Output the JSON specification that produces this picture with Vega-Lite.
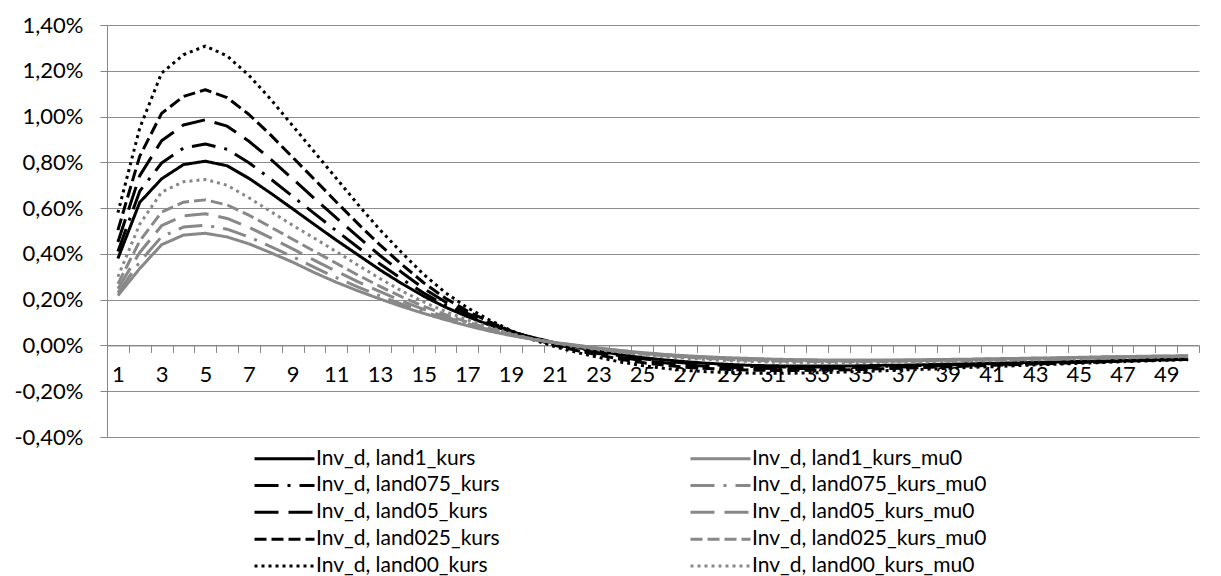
{
"$schema":"https://vega.github.io/schema/vega-lite/v6.json",
"width":1092,"height":412,
"autosize":{"type":"none"},
"padding":{"left":107,"top":25,"right":22,"bottom":139},
"background":"#ffffff",
"config":{"view":{"stroke":null},"font":"Lato"},
"data":{"values":[
{"t":1,"series":"Inv_d, land1_kurs","value":0.38},{"t":2,"series":"Inv_d, land1_kurs","value":0.625},{"t":3,"series":"Inv_d, land1_kurs","value":0.728},{"t":4,"series":"Inv_d, land1_kurs","value":0.79},{"t":5,"series":"Inv_d, land1_kurs","value":0.805},{"t":6,"series":"Inv_d, land1_kurs","value":0.785},{"t":7,"series":"Inv_d, land1_kurs","value":0.73},{"t":8,"series":"Inv_d, land1_kurs","value":0.665},{"t":9,"series":"Inv_d, land1_kurs","value":0.597},{"t":10,"series":"Inv_d, land1_kurs","value":0.528},{"t":11,"series":"Inv_d, land1_kurs","value":0.46},{"t":12,"series":"Inv_d, land1_kurs","value":0.395},{"t":13,"series":"Inv_d, land1_kurs","value":0.33},{"t":14,"series":"Inv_d, land1_kurs","value":0.27},{"t":15,"series":"Inv_d, land1_kurs","value":0.215},{"t":16,"series":"Inv_d, land1_kurs","value":0.167},{"t":17,"series":"Inv_d, land1_kurs","value":0.126},{"t":18,"series":"Inv_d, land1_kurs","value":0.09},{"t":19,"series":"Inv_d, land1_kurs","value":0.06},{"t":20,"series":"Inv_d, land1_kurs","value":0.035},{"t":21,"series":"Inv_d, land1_kurs","value":0.012},{"t":22,"series":"Inv_d, land1_kurs","value":-0.008},{"t":23,"series":"Inv_d, land1_kurs","value":-0.025},{"t":24,"series":"Inv_d, land1_kurs","value":-0.04},{"t":25,"series":"Inv_d, land1_kurs","value":-0.053},{"t":26,"series":"Inv_d, land1_kurs","value":-0.063},{"t":27,"series":"Inv_d, land1_kurs","value":-0.071},{"t":28,"series":"Inv_d, land1_kurs","value":-0.078},{"t":29,"series":"Inv_d, land1_kurs","value":-0.083},{"t":30,"series":"Inv_d, land1_kurs","value":-0.087},{"t":31,"series":"Inv_d, land1_kurs","value":-0.089},{"t":32,"series":"Inv_d, land1_kurs","value":-0.09},{"t":33,"series":"Inv_d, land1_kurs","value":-0.09},{"t":34,"series":"Inv_d, land1_kurs","value":-0.09},{"t":35,"series":"Inv_d, land1_kurs","value":-0.089},{"t":36,"series":"Inv_d, land1_kurs","value":-0.087},{"t":37,"series":"Inv_d, land1_kurs","value":-0.086},{"t":38,"series":"Inv_d, land1_kurs","value":-0.084},{"t":39,"series":"Inv_d, land1_kurs","value":-0.082},{"t":40,"series":"Inv_d, land1_kurs","value":-0.08},{"t":41,"series":"Inv_d, land1_kurs","value":-0.078},{"t":42,"series":"Inv_d, land1_kurs","value":-0.076},{"t":43,"series":"Inv_d, land1_kurs","value":-0.074},{"t":44,"series":"Inv_d, land1_kurs","value":-0.072},{"t":45,"series":"Inv_d, land1_kurs","value":-0.07},{"t":46,"series":"Inv_d, land1_kurs","value":-0.068},{"t":47,"series":"Inv_d, land1_kurs","value":-0.066},{"t":48,"series":"Inv_d, land1_kurs","value":-0.063},{"t":49,"series":"Inv_d, land1_kurs","value":-0.061},{"t":50,"series":"Inv_d, land1_kurs","value":-0.059},
{"t":1,"series":"Inv_d, land075_kurs","value":0.41},{"t":2,"series":"Inv_d, land075_kurs","value":0.674},{"t":3,"series":"Inv_d, land075_kurs","value":0.797},{"t":4,"series":"Inv_d, land075_kurs","value":0.862},{"t":5,"series":"Inv_d, land075_kurs","value":0.88},{"t":6,"series":"Inv_d, land075_kurs","value":0.857},{"t":7,"series":"Inv_d, land075_kurs","value":0.798},{"t":8,"series":"Inv_d, land075_kurs","value":0.727},{"t":9,"series":"Inv_d, land075_kurs","value":0.651},{"t":10,"series":"Inv_d, land075_kurs","value":0.576},{"t":11,"series":"Inv_d, land075_kurs","value":0.501},{"t":12,"series":"Inv_d, land075_kurs","value":0.428},{"t":13,"series":"Inv_d, land075_kurs","value":0.356},{"t":14,"series":"Inv_d, land075_kurs","value":0.29},{"t":15,"series":"Inv_d, land075_kurs","value":0.229},{"t":16,"series":"Inv_d, land075_kurs","value":0.176},{"t":17,"series":"Inv_d, land075_kurs","value":0.132},{"t":18,"series":"Inv_d, land075_kurs","value":0.093},{"t":19,"series":"Inv_d, land075_kurs","value":0.061},{"t":20,"series":"Inv_d, land075_kurs","value":0.033},{"t":21,"series":"Inv_d, land075_kurs","value":0.009},{"t":22,"series":"Inv_d, land075_kurs","value":-0.011},{"t":23,"series":"Inv_d, land075_kurs","value":-0.029},{"t":24,"series":"Inv_d, land075_kurs","value":-0.045},{"t":25,"series":"Inv_d, land075_kurs","value":-0.058},{"t":26,"series":"Inv_d, land075_kurs","value":-0.069},{"t":27,"series":"Inv_d, land075_kurs","value":-0.077},{"t":28,"series":"Inv_d, land075_kurs","value":-0.084},{"t":29,"series":"Inv_d, land075_kurs","value":-0.088},{"t":30,"series":"Inv_d, land075_kurs","value":-0.092},{"t":31,"series":"Inv_d, land075_kurs","value":-0.094},{"t":32,"series":"Inv_d, land075_kurs","value":-0.095},{"t":33,"series":"Inv_d, land075_kurs","value":-0.094},{"t":34,"series":"Inv_d, land075_kurs","value":-0.094},{"t":35,"series":"Inv_d, land075_kurs","value":-0.093},{"t":36,"series":"Inv_d, land075_kurs","value":-0.091},{"t":37,"series":"Inv_d, land075_kurs","value":-0.089},{"t":38,"series":"Inv_d, land075_kurs","value":-0.087},{"t":39,"series":"Inv_d, land075_kurs","value":-0.085},{"t":40,"series":"Inv_d, land075_kurs","value":-0.082},{"t":41,"series":"Inv_d, land075_kurs","value":-0.08},{"t":42,"series":"Inv_d, land075_kurs","value":-0.078},{"t":43,"series":"Inv_d, land075_kurs","value":-0.076},{"t":44,"series":"Inv_d, land075_kurs","value":-0.074},{"t":45,"series":"Inv_d, land075_kurs","value":-0.071},{"t":46,"series":"Inv_d, land075_kurs","value":-0.069},{"t":47,"series":"Inv_d, land075_kurs","value":-0.067},{"t":48,"series":"Inv_d, land075_kurs","value":-0.064},{"t":49,"series":"Inv_d, land075_kurs","value":-0.062},{"t":50,"series":"Inv_d, land075_kurs","value":-0.059},
{"t":1,"series":"Inv_d, land05_kurs","value":0.452},{"t":2,"series":"Inv_d, land05_kurs","value":0.742},{"t":3,"series":"Inv_d, land05_kurs","value":0.894},{"t":4,"series":"Inv_d, land05_kurs","value":0.963},{"t":5,"series":"Inv_d, land05_kurs","value":0.986},{"t":6,"series":"Inv_d, land05_kurs","value":0.958},{"t":7,"series":"Inv_d, land05_kurs","value":0.892},{"t":8,"series":"Inv_d, land05_kurs","value":0.813},{"t":9,"series":"Inv_d, land05_kurs","value":0.728},{"t":10,"series":"Inv_d, land05_kurs","value":0.642},{"t":11,"series":"Inv_d, land05_kurs","value":0.557},{"t":12,"series":"Inv_d, land05_kurs","value":0.474},{"t":13,"series":"Inv_d, land05_kurs","value":0.393},{"t":14,"series":"Inv_d, land05_kurs","value":0.319},{"t":15,"series":"Inv_d, land05_kurs","value":0.249},{"t":16,"series":"Inv_d, land05_kurs","value":0.19},{"t":17,"series":"Inv_d, land05_kurs","value":0.14},{"t":18,"series":"Inv_d, land05_kurs","value":0.098},{"t":19,"series":"Inv_d, land05_kurs","value":0.062},{"t":20,"series":"Inv_d, land05_kurs","value":0.031},{"t":21,"series":"Inv_d, land05_kurs","value":0.006},{"t":22,"series":"Inv_d, land05_kurs","value":-0.016},{"t":23,"series":"Inv_d, land05_kurs","value":-0.035},{"t":24,"series":"Inv_d, land05_kurs","value":-0.052},{"t":25,"series":"Inv_d, land05_kurs","value":-0.066},{"t":26,"series":"Inv_d, land05_kurs","value":-0.076},{"t":27,"series":"Inv_d, land05_kurs","value":-0.085},{"t":28,"series":"Inv_d, land05_kurs","value":-0.091},{"t":29,"series":"Inv_d, land05_kurs","value":-0.096},{"t":30,"series":"Inv_d, land05_kurs","value":-0.099},{"t":31,"series":"Inv_d, land05_kurs","value":-0.101},{"t":32,"series":"Inv_d, land05_kurs","value":-0.101},{"t":33,"series":"Inv_d, land05_kurs","value":-0.1},{"t":34,"series":"Inv_d, land05_kurs","value":-0.1},{"t":35,"series":"Inv_d, land05_kurs","value":-0.098},{"t":36,"series":"Inv_d, land05_kurs","value":-0.096},{"t":37,"series":"Inv_d, land05_kurs","value":-0.094},{"t":38,"series":"Inv_d, land05_kurs","value":-0.091},{"t":39,"series":"Inv_d, land05_kurs","value":-0.088},{"t":40,"series":"Inv_d, land05_kurs","value":-0.086},{"t":41,"series":"Inv_d, land05_kurs","value":-0.083},{"t":42,"series":"Inv_d, land05_kurs","value":-0.081},{"t":43,"series":"Inv_d, land05_kurs","value":-0.078},{"t":44,"series":"Inv_d, land05_kurs","value":-0.076},{"t":45,"series":"Inv_d, land05_kurs","value":-0.073},{"t":46,"series":"Inv_d, land05_kurs","value":-0.071},{"t":47,"series":"Inv_d, land05_kurs","value":-0.068},{"t":48,"series":"Inv_d, land05_kurs","value":-0.065},{"t":49,"series":"Inv_d, land05_kurs","value":-0.062},{"t":50,"series":"Inv_d, land05_kurs","value":-0.06},
{"t":1,"series":"Inv_d, land025_kurs","value":0.504},{"t":2,"series":"Inv_d, land025_kurs","value":0.827},{"t":3,"series":"Inv_d, land025_kurs","value":1.014},{"t":4,"series":"Inv_d, land025_kurs","value":1.088},{"t":5,"series":"Inv_d, land025_kurs","value":1.117},{"t":6,"series":"Inv_d, land025_kurs","value":1.083},{"t":7,"series":"Inv_d, land025_kurs","value":1.009},{"t":8,"series":"Inv_d, land025_kurs","value":0.919},{"t":9,"series":"Inv_d, land025_kurs","value":0.822},{"t":10,"series":"Inv_d, land025_kurs","value":0.725},{"t":11,"series":"Inv_d, land025_kurs","value":0.627},{"t":12,"series":"Inv_d, land025_kurs","value":0.531},{"t":13,"series":"Inv_d, land025_kurs","value":0.439},{"t":14,"series":"Inv_d, land025_kurs","value":0.354},{"t":15,"series":"Inv_d, land025_kurs","value":0.274},{"t":16,"series":"Inv_d, land025_kurs","value":0.206},{"t":17,"series":"Inv_d, land025_kurs","value":0.15},{"t":18,"series":"Inv_d, land025_kurs","value":0.104},{"t":19,"series":"Inv_d, land025_kurs","value":0.063},{"t":20,"series":"Inv_d, land025_kurs","value":0.029},{"t":21,"series":"Inv_d, land025_kurs","value":0.001},{"t":22,"series":"Inv_d, land025_kurs","value":-0.022},{"t":23,"series":"Inv_d, land025_kurs","value":-0.042},{"t":24,"series":"Inv_d, land025_kurs","value":-0.06},{"t":25,"series":"Inv_d, land025_kurs","value":-0.075},{"t":26,"series":"Inv_d, land025_kurs","value":-0.086},{"t":27,"series":"Inv_d, land025_kurs","value":-0.095},{"t":28,"series":"Inv_d, land025_kurs","value":-0.101},{"t":29,"series":"Inv_d, land025_kurs","value":-0.105},{"t":30,"series":"Inv_d, land025_kurs","value":-0.108},{"t":31,"series":"Inv_d, land025_kurs","value":-0.109},{"t":32,"series":"Inv_d, land025_kurs","value":-0.109},{"t":33,"series":"Inv_d, land025_kurs","value":-0.108},{"t":34,"series":"Inv_d, land025_kurs","value":-0.107},{"t":35,"series":"Inv_d, land025_kurs","value":-0.105},{"t":36,"series":"Inv_d, land025_kurs","value":-0.102},{"t":37,"series":"Inv_d, land025_kurs","value":-0.099},{"t":38,"series":"Inv_d, land025_kurs","value":-0.096},{"t":39,"series":"Inv_d, land025_kurs","value":-0.093},{"t":40,"series":"Inv_d, land025_kurs","value":-0.09},{"t":41,"series":"Inv_d, land025_kurs","value":-0.087},{"t":42,"series":"Inv_d, land025_kurs","value":-0.084},{"t":43,"series":"Inv_d, land025_kurs","value":-0.081},{"t":44,"series":"Inv_d, land025_kurs","value":-0.078},{"t":45,"series":"Inv_d, land025_kurs","value":-0.075},{"t":46,"series":"Inv_d, land025_kurs","value":-0.072},{"t":47,"series":"Inv_d, land025_kurs","value":-0.069},{"t":48,"series":"Inv_d, land025_kurs","value":-0.066},{"t":49,"series":"Inv_d, land025_kurs","value":-0.063},{"t":50,"series":"Inv_d, land025_kurs","value":-0.061},
{"t":1,"series":"Inv_d, land00_kurs","value":0.58},{"t":2,"series":"Inv_d, land00_kurs","value":0.95},{"t":3,"series":"Inv_d, land00_kurs","value":1.19},{"t":4,"series":"Inv_d, land00_kurs","value":1.27},{"t":5,"series":"Inv_d, land00_kurs","value":1.308},{"t":6,"series":"Inv_d, land00_kurs","value":1.265},{"t":7,"series":"Inv_d, land00_kurs","value":1.18},{"t":8,"series":"Inv_d, land00_kurs","value":1.075},{"t":9,"series":"Inv_d, land00_kurs","value":0.96},{"t":10,"series":"Inv_d, land00_kurs","value":0.845},{"t":11,"series":"Inv_d, land00_kurs","value":0.73},{"t":12,"series":"Inv_d, land00_kurs","value":0.615},{"t":13,"series":"Inv_d, land00_kurs","value":0.505},{"t":14,"series":"Inv_d, land00_kurs","value":0.405},{"t":15,"series":"Inv_d, land00_kurs","value":0.31},{"t":16,"series":"Inv_d, land00_kurs","value":0.23},{"t":17,"series":"Inv_d, land00_kurs","value":0.165},{"t":18,"series":"Inv_d, land00_kurs","value":0.112},{"t":19,"series":"Inv_d, land00_kurs","value":0.065},{"t":20,"series":"Inv_d, land00_kurs","value":0.025},{"t":21,"series":"Inv_d, land00_kurs","value":-0.005},{"t":22,"series":"Inv_d, land00_kurs","value":-0.03},{"t":23,"series":"Inv_d, land00_kurs","value":-0.052},{"t":24,"series":"Inv_d, land00_kurs","value":-0.072},{"t":25,"series":"Inv_d, land00_kurs","value":-0.088},{"t":26,"series":"Inv_d, land00_kurs","value":-0.1},{"t":27,"series":"Inv_d, land00_kurs","value":-0.109},{"t":28,"series":"Inv_d, land00_kurs","value":-0.115},{"t":29,"series":"Inv_d, land00_kurs","value":-0.119},{"t":30,"series":"Inv_d, land00_kurs","value":-0.121},{"t":31,"series":"Inv_d, land00_kurs","value":-0.122},{"t":32,"series":"Inv_d, land00_kurs","value":-0.121},{"t":33,"series":"Inv_d, land00_kurs","value":-0.119},{"t":34,"series":"Inv_d, land00_kurs","value":-0.117},{"t":35,"series":"Inv_d, land00_kurs","value":-0.114},{"t":36,"series":"Inv_d, land00_kurs","value":-0.111},{"t":37,"series":"Inv_d, land00_kurs","value":-0.107},{"t":38,"series":"Inv_d, land00_kurs","value":-0.104},{"t":39,"series":"Inv_d, land00_kurs","value":-0.1},{"t":40,"series":"Inv_d, land00_kurs","value":-0.096},{"t":41,"series":"Inv_d, land00_kurs","value":-0.093},{"t":42,"series":"Inv_d, land00_kurs","value":-0.089},{"t":43,"series":"Inv_d, land00_kurs","value":-0.085},{"t":44,"series":"Inv_d, land00_kurs","value":-0.082},{"t":45,"series":"Inv_d, land00_kurs","value":-0.078},{"t":46,"series":"Inv_d, land00_kurs","value":-0.075},{"t":47,"series":"Inv_d, land00_kurs","value":-0.071},{"t":48,"series":"Inv_d, land00_kurs","value":-0.068},{"t":49,"series":"Inv_d, land00_kurs","value":-0.065},{"t":50,"series":"Inv_d, land00_kurs","value":-0.062},
{"t":1,"series":"Inv_d, land1_kurs_mu0","value":0.218},{"t":2,"series":"Inv_d, land1_kurs_mu0","value":0.336},{"t":3,"series":"Inv_d, land1_kurs_mu0","value":0.44},{"t":4,"series":"Inv_d, land1_kurs_mu0","value":0.482},{"t":5,"series":"Inv_d, land1_kurs_mu0","value":0.49},{"t":6,"series":"Inv_d, land1_kurs_mu0","value":0.474},{"t":7,"series":"Inv_d, land1_kurs_mu0","value":0.444},{"t":8,"series":"Inv_d, land1_kurs_mu0","value":0.405},{"t":9,"series":"Inv_d, land1_kurs_mu0","value":0.364},{"t":10,"series":"Inv_d, land1_kurs_mu0","value":0.318},{"t":11,"series":"Inv_d, land1_kurs_mu0","value":0.276},{"t":12,"series":"Inv_d, land1_kurs_mu0","value":0.238},{"t":13,"series":"Inv_d, land1_kurs_mu0","value":0.203},{"t":14,"series":"Inv_d, land1_kurs_mu0","value":0.17},{"t":15,"series":"Inv_d, land1_kurs_mu0","value":0.14},{"t":16,"series":"Inv_d, land1_kurs_mu0","value":0.112},{"t":17,"series":"Inv_d, land1_kurs_mu0","value":0.086},{"t":18,"series":"Inv_d, land1_kurs_mu0","value":0.063},{"t":19,"series":"Inv_d, land1_kurs_mu0","value":0.043},{"t":20,"series":"Inv_d, land1_kurs_mu0","value":0.027},{"t":21,"series":"Inv_d, land1_kurs_mu0","value":0.013},{"t":22,"series":"Inv_d, land1_kurs_mu0","value":0.001},{"t":23,"series":"Inv_d, land1_kurs_mu0","value":-0.011},{"t":24,"series":"Inv_d, land1_kurs_mu0","value":-0.022},{"t":25,"series":"Inv_d, land1_kurs_mu0","value":-0.031},{"t":26,"series":"Inv_d, land1_kurs_mu0","value":-0.039},{"t":27,"series":"Inv_d, land1_kurs_mu0","value":-0.045},{"t":28,"series":"Inv_d, land1_kurs_mu0","value":-0.05},{"t":29,"series":"Inv_d, land1_kurs_mu0","value":-0.054},{"t":30,"series":"Inv_d, land1_kurs_mu0","value":-0.057},{"t":31,"series":"Inv_d, land1_kurs_mu0","value":-0.06},{"t":32,"series":"Inv_d, land1_kurs_mu0","value":-0.062},{"t":33,"series":"Inv_d, land1_kurs_mu0","value":-0.063},{"t":34,"series":"Inv_d, land1_kurs_mu0","value":-0.064},{"t":35,"series":"Inv_d, land1_kurs_mu0","value":-0.064},{"t":36,"series":"Inv_d, land1_kurs_mu0","value":-0.064},{"t":37,"series":"Inv_d, land1_kurs_mu0","value":-0.063},{"t":38,"series":"Inv_d, land1_kurs_mu0","value":-0.062},{"t":39,"series":"Inv_d, land1_kurs_mu0","value":-0.061},{"t":40,"series":"Inv_d, land1_kurs_mu0","value":-0.06},{"t":41,"series":"Inv_d, land1_kurs_mu0","value":-0.058},{"t":42,"series":"Inv_d, land1_kurs_mu0","value":-0.057},{"t":43,"series":"Inv_d, land1_kurs_mu0","value":-0.055},{"t":44,"series":"Inv_d, land1_kurs_mu0","value":-0.054},{"t":45,"series":"Inv_d, land1_kurs_mu0","value":-0.052},{"t":46,"series":"Inv_d, land1_kurs_mu0","value":-0.05},{"t":47,"series":"Inv_d, land1_kurs_mu0","value":-0.049},{"t":48,"series":"Inv_d, land1_kurs_mu0","value":-0.047},{"t":49,"series":"Inv_d, land1_kurs_mu0","value":-0.046},{"t":50,"series":"Inv_d, land1_kurs_mu0","value":-0.045},
{"t":1,"series":"Inv_d, land075_kurs_mu0","value":0.23},{"t":2,"series":"Inv_d, land075_kurs_mu0","value":0.365},{"t":3,"series":"Inv_d, land075_kurs_mu0","value":0.475},{"t":4,"series":"Inv_d, land075_kurs_mu0","value":0.517},{"t":5,"series":"Inv_d, land075_kurs_mu0","value":0.525},{"t":6,"series":"Inv_d, land075_kurs_mu0","value":0.508},{"t":7,"series":"Inv_d, land075_kurs_mu0","value":0.474},{"t":8,"series":"Inv_d, land075_kurs_mu0","value":0.432},{"t":9,"series":"Inv_d, land075_kurs_mu0","value":0.388},{"t":10,"series":"Inv_d, land075_kurs_mu0","value":0.341},{"t":11,"series":"Inv_d, land075_kurs_mu0","value":0.296},{"t":12,"series":"Inv_d, land075_kurs_mu0","value":0.255},{"t":13,"series":"Inv_d, land075_kurs_mu0","value":0.216},{"t":14,"series":"Inv_d, land075_kurs_mu0","value":0.18},{"t":15,"series":"Inv_d, land075_kurs_mu0","value":0.148},{"t":16,"series":"Inv_d, land075_kurs_mu0","value":0.117},{"t":17,"series":"Inv_d, land075_kurs_mu0","value":0.09},{"t":18,"series":"Inv_d, land075_kurs_mu0","value":0.066},{"t":19,"series":"Inv_d, land075_kurs_mu0","value":0.044},{"t":20,"series":"Inv_d, land075_kurs_mu0","value":0.027},{"t":21,"series":"Inv_d, land075_kurs_mu0","value":0.013},{"t":22,"series":"Inv_d, land075_kurs_mu0","value":0.0},{"t":23,"series":"Inv_d, land075_kurs_mu0","value":-0.012},{"t":24,"series":"Inv_d, land075_kurs_mu0","value":-0.023},{"t":25,"series":"Inv_d, land075_kurs_mu0","value":-0.032},{"t":26,"series":"Inv_d, land075_kurs_mu0","value":-0.041},{"t":27,"series":"Inv_d, land075_kurs_mu0","value":-0.047},{"t":28,"series":"Inv_d, land075_kurs_mu0","value":-0.052},{"t":29,"series":"Inv_d, land075_kurs_mu0","value":-0.056},{"t":30,"series":"Inv_d, land075_kurs_mu0","value":-0.059},{"t":31,"series":"Inv_d, land075_kurs_mu0","value":-0.062},{"t":32,"series":"Inv_d, land075_kurs_mu0","value":-0.064},{"t":33,"series":"Inv_d, land075_kurs_mu0","value":-0.065},{"t":34,"series":"Inv_d, land075_kurs_mu0","value":-0.066},{"t":35,"series":"Inv_d, land075_kurs_mu0","value":-0.066},{"t":36,"series":"Inv_d, land075_kurs_mu0","value":-0.066},{"t":37,"series":"Inv_d, land075_kurs_mu0","value":-0.065},{"t":38,"series":"Inv_d, land075_kurs_mu0","value":-0.064},{"t":39,"series":"Inv_d, land075_kurs_mu0","value":-0.062},{"t":40,"series":"Inv_d, land075_kurs_mu0","value":-0.061},{"t":41,"series":"Inv_d, land075_kurs_mu0","value":-0.059},{"t":42,"series":"Inv_d, land075_kurs_mu0","value":-0.058},{"t":43,"series":"Inv_d, land075_kurs_mu0","value":-0.056},{"t":44,"series":"Inv_d, land075_kurs_mu0","value":-0.055},{"t":45,"series":"Inv_d, land075_kurs_mu0","value":-0.053},{"t":46,"series":"Inv_d, land075_kurs_mu0","value":-0.051},{"t":47,"series":"Inv_d, land075_kurs_mu0","value":-0.05},{"t":48,"series":"Inv_d, land075_kurs_mu0","value":-0.048},{"t":49,"series":"Inv_d, land075_kurs_mu0","value":-0.047},{"t":50,"series":"Inv_d, land075_kurs_mu0","value":-0.046},
{"t":1,"series":"Inv_d, land05_kurs_mu0","value":0.248},{"t":2,"series":"Inv_d, land05_kurs_mu0","value":0.406},{"t":3,"series":"Inv_d, land05_kurs_mu0","value":0.523},{"t":4,"series":"Inv_d, land05_kurs_mu0","value":0.566},{"t":5,"series":"Inv_d, land05_kurs_mu0","value":0.575},{"t":6,"series":"Inv_d, land05_kurs_mu0","value":0.555},{"t":7,"series":"Inv_d, land05_kurs_mu0","value":0.516},{"t":8,"series":"Inv_d, land05_kurs_mu0","value":0.47},{"t":9,"series":"Inv_d, land05_kurs_mu0","value":0.422},{"t":10,"series":"Inv_d, land05_kurs_mu0","value":0.372},{"t":11,"series":"Inv_d, land05_kurs_mu0","value":0.324},{"t":12,"series":"Inv_d, land05_kurs_mu0","value":0.278},{"t":13,"series":"Inv_d, land05_kurs_mu0","value":0.235},{"t":14,"series":"Inv_d, land05_kurs_mu0","value":0.194},{"t":15,"series":"Inv_d, land05_kurs_mu0","value":0.158},{"t":16,"series":"Inv_d, land05_kurs_mu0","value":0.125},{"t":17,"series":"Inv_d, land05_kurs_mu0","value":0.095},{"t":18,"series":"Inv_d, land05_kurs_mu0","value":0.069},{"t":19,"series":"Inv_d, land05_kurs_mu0","value":0.046},{"t":20,"series":"Inv_d, land05_kurs_mu0","value":0.027},{"t":21,"series":"Inv_d, land05_kurs_mu0","value":0.012},{"t":22,"series":"Inv_d, land05_kurs_mu0","value":-0.002},{"t":23,"series":"Inv_d, land05_kurs_mu0","value":-0.014},{"t":24,"series":"Inv_d, land05_kurs_mu0","value":-0.025},{"t":25,"series":"Inv_d, land05_kurs_mu0","value":-0.034},{"t":26,"series":"Inv_d, land05_kurs_mu0","value":-0.043},{"t":27,"series":"Inv_d, land05_kurs_mu0","value":-0.049},{"t":28,"series":"Inv_d, land05_kurs_mu0","value":-0.054},{"t":29,"series":"Inv_d, land05_kurs_mu0","value":-0.059},{"t":30,"series":"Inv_d, land05_kurs_mu0","value":-0.062},{"t":31,"series":"Inv_d, land05_kurs_mu0","value":-0.065},{"t":32,"series":"Inv_d, land05_kurs_mu0","value":-0.066},{"t":33,"series":"Inv_d, land05_kurs_mu0","value":-0.067},{"t":34,"series":"Inv_d, land05_kurs_mu0","value":-0.068},{"t":35,"series":"Inv_d, land05_kurs_mu0","value":-0.068},{"t":36,"series":"Inv_d, land05_kurs_mu0","value":-0.068},{"t":37,"series":"Inv_d, land05_kurs_mu0","value":-0.067},{"t":38,"series":"Inv_d, land05_kurs_mu0","value":-0.066},{"t":39,"series":"Inv_d, land05_kurs_mu0","value":-0.064},{"t":40,"series":"Inv_d, land05_kurs_mu0","value":-0.063},{"t":41,"series":"Inv_d, land05_kurs_mu0","value":-0.061},{"t":42,"series":"Inv_d, land05_kurs_mu0","value":-0.06},{"t":43,"series":"Inv_d, land05_kurs_mu0","value":-0.058},{"t":44,"series":"Inv_d, land05_kurs_mu0","value":-0.057},{"t":45,"series":"Inv_d, land05_kurs_mu0","value":-0.055},{"t":46,"series":"Inv_d, land05_kurs_mu0","value":-0.053},{"t":47,"series":"Inv_d, land05_kurs_mu0","value":-0.051},{"t":48,"series":"Inv_d, land05_kurs_mu0","value":-0.049},{"t":49,"series":"Inv_d, land05_kurs_mu0","value":-0.048},{"t":50,"series":"Inv_d, land05_kurs_mu0","value":-0.046},
{"t":1,"series":"Inv_d, land025_kurs_mu0","value":0.269},{"t":2,"series":"Inv_d, land025_kurs_mu0","value":0.456},{"t":3,"series":"Inv_d, land025_kurs_mu0","value":0.583},{"t":4,"series":"Inv_d, land025_kurs_mu0","value":0.626},{"t":5,"series":"Inv_d, land025_kurs_mu0","value":0.636},{"t":6,"series":"Inv_d, land025_kurs_mu0","value":0.614},{"t":7,"series":"Inv_d, land025_kurs_mu0","value":0.569},{"t":8,"series":"Inv_d, land025_kurs_mu0","value":0.517},{"t":9,"series":"Inv_d, land025_kurs_mu0","value":0.464},{"t":10,"series":"Inv_d, land025_kurs_mu0","value":0.411},{"t":11,"series":"Inv_d, land025_kurs_mu0","value":0.359},{"t":12,"series":"Inv_d, land025_kurs_mu0","value":0.307},{"t":13,"series":"Inv_d, land025_kurs_mu0","value":0.258},{"t":14,"series":"Inv_d, land025_kurs_mu0","value":0.212},{"t":15,"series":"Inv_d, land025_kurs_mu0","value":0.171},{"t":16,"series":"Inv_d, land025_kurs_mu0","value":0.134},{"t":17,"series":"Inv_d, land025_kurs_mu0","value":0.102},{"t":18,"series":"Inv_d, land025_kurs_mu0","value":0.074},{"t":19,"series":"Inv_d, land025_kurs_mu0","value":0.049},{"t":20,"series":"Inv_d, land025_kurs_mu0","value":0.028},{"t":21,"series":"Inv_d, land025_kurs_mu0","value":0.011},{"t":22,"series":"Inv_d, land025_kurs_mu0","value":-0.003},{"t":23,"series":"Inv_d, land025_kurs_mu0","value":-0.016},{"t":24,"series":"Inv_d, land025_kurs_mu0","value":-0.027},{"t":25,"series":"Inv_d, land025_kurs_mu0","value":-0.037},{"t":26,"series":"Inv_d, land025_kurs_mu0","value":-0.045},{"t":27,"series":"Inv_d, land025_kurs_mu0","value":-0.052},{"t":28,"series":"Inv_d, land025_kurs_mu0","value":-0.057},{"t":29,"series":"Inv_d, land025_kurs_mu0","value":-0.062},{"t":30,"series":"Inv_d, land025_kurs_mu0","value":-0.065},{"t":31,"series":"Inv_d, land025_kurs_mu0","value":-0.068},{"t":32,"series":"Inv_d, land025_kurs_mu0","value":-0.069},{"t":33,"series":"Inv_d, land025_kurs_mu0","value":-0.07},{"t":34,"series":"Inv_d, land025_kurs_mu0","value":-0.071},{"t":35,"series":"Inv_d, land025_kurs_mu0","value":-0.071},{"t":36,"series":"Inv_d, land025_kurs_mu0","value":-0.07},{"t":37,"series":"Inv_d, land025_kurs_mu0","value":-0.069},{"t":38,"series":"Inv_d, land025_kurs_mu0","value":-0.068},{"t":39,"series":"Inv_d, land025_kurs_mu0","value":-0.067},{"t":40,"series":"Inv_d, land025_kurs_mu0","value":-0.066},{"t":41,"series":"Inv_d, land025_kurs_mu0","value":-0.064},{"t":42,"series":"Inv_d, land025_kurs_mu0","value":-0.062},{"t":43,"series":"Inv_d, land025_kurs_mu0","value":-0.06},{"t":44,"series":"Inv_d, land025_kurs_mu0","value":-0.058},{"t":45,"series":"Inv_d, land025_kurs_mu0","value":-0.056},{"t":46,"series":"Inv_d, land025_kurs_mu0","value":-0.054},{"t":47,"series":"Inv_d, land025_kurs_mu0","value":-0.053},{"t":48,"series":"Inv_d, land025_kurs_mu0","value":-0.051},{"t":49,"series":"Inv_d, land025_kurs_mu0","value":-0.049},{"t":50,"series":"Inv_d, land025_kurs_mu0","value":-0.047},
{"t":1,"series":"Inv_d, land00_kurs_mu0","value":0.3},{"t":2,"series":"Inv_d, land00_kurs_mu0","value":0.53},{"t":3,"series":"Inv_d, land00_kurs_mu0","value":0.67},{"t":4,"series":"Inv_d, land00_kurs_mu0","value":0.715},{"t":5,"series":"Inv_d, land00_kurs_mu0","value":0.725},{"t":6,"series":"Inv_d, land00_kurs_mu0","value":0.7},{"t":7,"series":"Inv_d, land00_kurs_mu0","value":0.645},{"t":8,"series":"Inv_d, land00_kurs_mu0","value":0.585},{"t":9,"series":"Inv_d, land00_kurs_mu0","value":0.525},{"t":10,"series":"Inv_d, land00_kurs_mu0","value":0.468},{"t":11,"series":"Inv_d, land00_kurs_mu0","value":0.41},{"t":12,"series":"Inv_d, land00_kurs_mu0","value":0.35},{"t":13,"series":"Inv_d, land00_kurs_mu0","value":0.292},{"t":14,"series":"Inv_d, land00_kurs_mu0","value":0.238},{"t":15,"series":"Inv_d, land00_kurs_mu0","value":0.19},{"t":16,"series":"Inv_d, land00_kurs_mu0","value":0.148},{"t":17,"series":"Inv_d, land00_kurs_mu0","value":0.112},{"t":18,"series":"Inv_d, land00_kurs_mu0","value":0.08},{"t":19,"series":"Inv_d, land00_kurs_mu0","value":0.052},{"t":20,"series":"Inv_d, land00_kurs_mu0","value":0.028},{"t":21,"series":"Inv_d, land00_kurs_mu0","value":0.01},{"t":22,"series":"Inv_d, land00_kurs_mu0","value":-0.006},{"t":23,"series":"Inv_d, land00_kurs_mu0","value":-0.019},{"t":24,"series":"Inv_d, land00_kurs_mu0","value":-0.03},{"t":25,"series":"Inv_d, land00_kurs_mu0","value":-0.04},{"t":26,"series":"Inv_d, land00_kurs_mu0","value":-0.049},{"t":27,"series":"Inv_d, land00_kurs_mu0","value":-0.056},{"t":28,"series":"Inv_d, land00_kurs_mu0","value":-0.062},{"t":29,"series":"Inv_d, land00_kurs_mu0","value":-0.067},{"t":30,"series":"Inv_d, land00_kurs_mu0","value":-0.07},{"t":31,"series":"Inv_d, land00_kurs_mu0","value":-0.073},{"t":32,"series":"Inv_d, land00_kurs_mu0","value":-0.074},{"t":33,"series":"Inv_d, land00_kurs_mu0","value":-0.075},{"t":34,"series":"Inv_d, land00_kurs_mu0","value":-0.075},{"t":35,"series":"Inv_d, land00_kurs_mu0","value":-0.075},{"t":36,"series":"Inv_d, land00_kurs_mu0","value":-0.074},{"t":37,"series":"Inv_d, land00_kurs_mu0","value":-0.073},{"t":38,"series":"Inv_d, land00_kurs_mu0","value":-0.072},{"t":39,"series":"Inv_d, land00_kurs_mu0","value":-0.07},{"t":40,"series":"Inv_d, land00_kurs_mu0","value":-0.069},{"t":41,"series":"Inv_d, land00_kurs_mu0","value":-0.067},{"t":42,"series":"Inv_d, land00_kurs_mu0","value":-0.065},{"t":43,"series":"Inv_d, land00_kurs_mu0","value":-0.063},{"t":44,"series":"Inv_d, land00_kurs_mu0","value":-0.061},{"t":45,"series":"Inv_d, land00_kurs_mu0","value":-0.059},{"t":46,"series":"Inv_d, land00_kurs_mu0","value":-0.057},{"t":47,"series":"Inv_d, land00_kurs_mu0","value":-0.055},{"t":48,"series":"Inv_d, land00_kurs_mu0","value":-0.053},{"t":49,"series":"Inv_d, land00_kurs_mu0","value":-0.051},{"t":50,"series":"Inv_d, land00_kurs_mu0","value":-0.049}
]},
"mark":{"type":"line","strokeWidth":3,"strokeCap":"butt","strokeJoin":"round","clip":false},
"encoding":{
"x":{"field":"t","type":"ordinal","bandPosition":0.5,"scale":{"type":"band","paddingInner":0,"paddingOuter":0},
"axis":{"title":null,"tickBand":"extent","labelAngle":0,"labelOverlap":false,"labelExpr":"datum.value % 2 == 1 ? datum.label : ''","offset":-91.56,"domainColor":"#868686","domainWidth":1,"tickColor":"#868686","tickWidth":1,"tickSize":7,"labelPadding":12,"labelFont":"Lato","labelFontSize":22,"labelColor":"#000000","grid":false}},
"y":{"field":"value","type":"quantitative","scale":{"domain":[-0.4,1.4],"nice":false,"zero":false},
"axis":{"title":null,"values":[-0.4,-0.2,0,0.2,0.4,0.6,0.8,1.0,1.2,1.4],"labelExpr":"replace(replace(format(datum.value,'.2f'),'.',','),'\u2212','-') + '%'","grid":true,"gridColor":"#8c8c8c","gridWidth":1,"domainColor":"#868686","domainWidth":1,"tickColor":"#868686","tickSize":7,"labelPadding":17,"labelFont":"Lato","labelFontSize":22,"labelColor":"#000000"}},
"color":{"field":"series","type":"nominal",
"scale":{"domain":["Inv_d, land1_kurs","Inv_d, land075_kurs","Inv_d, land05_kurs","Inv_d, land025_kurs","Inv_d, land00_kurs","Inv_d, land1_kurs_mu0","Inv_d, land075_kurs_mu0","Inv_d, land05_kurs_mu0","Inv_d, land025_kurs_mu0","Inv_d, land00_kurs_mu0"],
"range":["#000000","#000000","#000000","#000000","#000000","#888888","#888888","#888888","#888888","#888888"]},
"legend":{"title":null,"orient":"none","legendX":167,"legendY":423,"columns":2,"columnPadding":184,"rowPadding":4.9,"padding":0,"symbolType":"M-3.75,0H3.75","symbolSize":256,"symbolStrokeWidth":3,"symbolFillColor":"transparent","labelFont":"Lato","labelFontSize":21,"labelColor":"#000000","labelLimit":400,"labelOffset":21}},
"strokeDash":{"field":"series","type":"nominal",
"scale":{"domain":["Inv_d, land1_kurs","Inv_d, land075_kurs","Inv_d, land05_kurs","Inv_d, land025_kurs","Inv_d, land00_kurs","Inv_d, land1_kurs_mu0","Inv_d, land075_kurs_mu0","Inv_d, land05_kurs_mu0","Inv_d, land025_kurs_mu0","Inv_d, land00_kurs_mu0"],
"range":[[1,0],[24,9,3,9],[24,10],[12,5],[3,4],[1,0],[24,9,3,9],[24,10],[12,5],[3,4]]},
"legend":{"title":null,"orient":"none","legendX":167,"legendY":423,"columns":2,"columnPadding":184,"rowPadding":4.9,"padding":0,"symbolType":"M-3.75,0H3.75","symbolSize":256,"symbolStrokeWidth":3,"symbolFillColor":"transparent","labelFont":"Lato","labelFontSize":21,"labelColor":"#000000","labelLimit":400,"labelOffset":21}}
}
}
